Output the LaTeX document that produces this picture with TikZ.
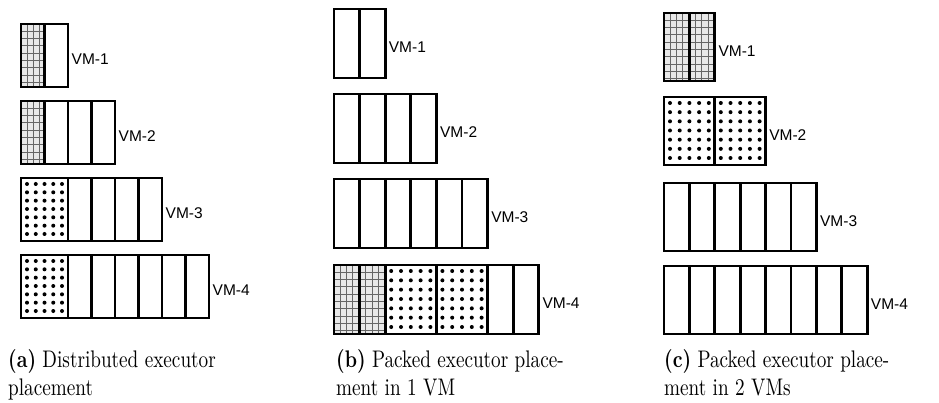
\documentclass[tikz,border=0pt]{standalone}
\usepackage{fontspec}
\newfontfamily\vmfont{Liberation Sans}
\usetikzlibrary{calc}

% grid-hatched single slot
\newcommand\fillh[4]{%
  \fill[hatchfill] (#1,#2) rectangle (#3,#4);
  \begin{scope}
    \clip (#1,#2) rectangle (#3,#4);
    \foreach \k in {1,...,5} \draw[hatchline] ({#1+\k*6.2},#2) -- ({#1+\k*6.2},#4);
    \foreach \k in {1,...,10} \draw[hatchline] (#1,{#2+\k*7.3}) -- (#3,{#2+\k*7.3});
  \end{scope}}
% dotted double slot
\newcommand\filld[4]{%
  \foreach \i in {0,...,4}
    \foreach \j in {0,...,6}
      \fill ({#1+6+\i*((#3)-(#1)-12)/4},{#2+6+\j*((#4)-(#2)-13)/6}) circle (2);}
% plain slot
\newcommand\fillp[4]{}

% one VM: name, x0, y0, slot width, height, slots (type/from/to), slot count, label
\newcommand\vmbox[8]{%
  \foreach \t/\a/\b in {#6} {
    \pgfmathsetmacro\xa{#2+\a*#4}
    \pgfmathsetmacro\xb{#2+\b*#4}
    \csname fill\t\endcsname{\xa}{#3}{\xb}{#3+#5}
  }
  \foreach \t/\a/\b in {#6} {
    \pgfmathsetmacro\xa{#2+\a*#4}
    \pgfmathsetmacro\xb{#2+\b*#4}
    \draw[slot] (\xa,#3) rectangle (\xb,{#3+#5});
  }
  \node[vmlabel] (#1) at ({#2+#7*#4+3.5},{#3+#5/2+4}) {#8};}

% caption line: 10pt text design, enlarged
\newcommand\capline[1]{\scalebox{1.92}[2.4]{#1}}

\begin{document}
\begin{tikzpicture}[x=1pt,y=-1pt,
  slot/.style={draw=black,line width=2.8pt},
  hatchfill/.style={fill=black!9},
  hatchline/.style={draw=black!60,line width=1pt},
  vmlabel/.style={anchor=west,inner sep=0pt,font=\vmfont\fontsize{15.5}{18}\selectfont},
  subcap/.style={anchor=base west,inner sep=0pt,font=\fontsize{10}{12}\selectfont}]
\useasboundingbox (0,0) rectangle (939,403);

% (a) distributed placement
\vmbox{a1}{21}{24}{23.5}{63}{h/0/1,p/1/2}{2}{VM-1}
\vmbox{a2}{21}{101}{23.5}{63}{h/0/1,p/1/2,p/2/3,p/3/4}{4}{VM-2}
\vmbox{a3}{21}{178}{23.5}{63}{d/0/2,p/2/3,p/3/4,p/4/5,p/5/6}{6}{VM-3}
\vmbox{a4}{21}{255}{23.5}{63}{d/0/2,p/2/3,p/3/4,p/4/5,p/5/6,p/6/7,p/7/8}{8}{VM-4}

% (b) packed into one VM
\vmbox{b1}{334}{9}{25.6}{69}{p/0/1,p/1/2}{2}{VM-1}
\vmbox{b2}{334}{94}{25.6}{69}{p/0/1,p/1/2,p/2/3,p/3/4}{4}{VM-2}
\vmbox{b3}{334}{179}{25.6}{69}{p/0/1,p/1/2,p/2/3,p/3/4,p/4/5,p/5/6}{6}{VM-3}
\vmbox{b4}{334}{265}{25.6}{69}{h/0/1,h/1/2,d/2/4,d/4/6,p/6/7,p/7/8}{8}{VM-4}

% (c) packed into two VMs
\vmbox{c1}{664}{13}{25.4}{68}{h/0/1,h/1/2}{2}{VM-1}
\vmbox{c2}{664}{97}{25.4}{68}{d/0/2,d/2/4}{4}{VM-2}
\vmbox{c3}{664}{183}{25.4}{68}{p/0/1,p/1/2,p/2/3,p/3/4,p/4/5,p/5/6}{6}{VM-3}
\vmbox{c4}{664}{266}{25.4}{68}{p/0/1,p/1/2,p/2/3,p/3/4,p/4/5,p/5/6,p/6/7,p/7/8}{8}{VM-4}

% sub-captions
\node[subcap] (capa1) at (8,367) {\capline{\textbf{(a)} Distributed executor}};
\node[subcap] (capa2) at (8,395) {\capline{placement}};
\node[subcap] (capb1) at (336,367) {\capline{\textbf{(b)} Packed executor place-}};
\node[subcap] (capb2) at (336,395) {\capline{ment in 1 VM}};
\node[subcap] (capc1) at (664,367) {\capline{\textbf{(c)} Packed executor place-}};
\node[subcap] (capc2) at (664,395) {\capline{ment in 2 VMs}};
\end{tikzpicture}
\end{document}
